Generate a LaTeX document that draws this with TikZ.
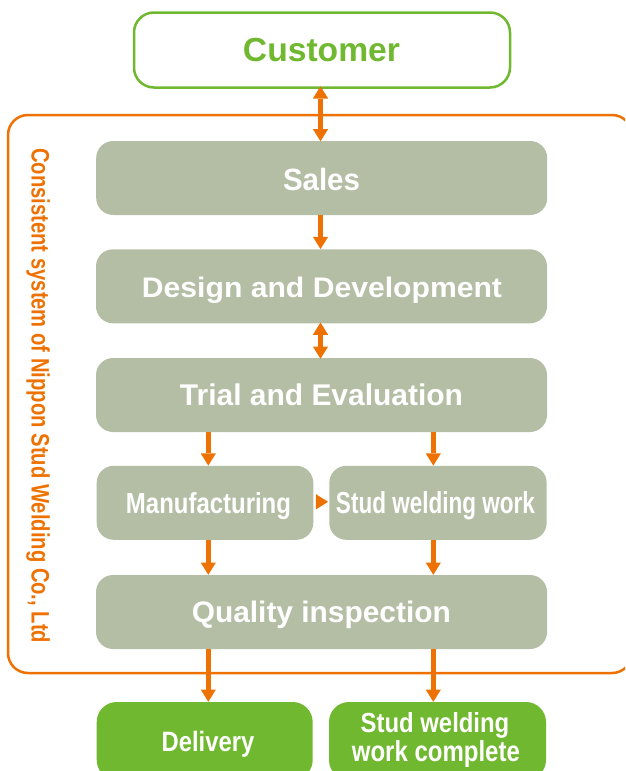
\documentclass[tikz,border=0pt]{standalone}
\usepackage{graphicx}
\usepackage{fontspec}
\setmainfont{Liberation Sans}
\usetikzlibrary{arrows.meta}
\definecolor{nsorange}{HTML}{EE7203}
\definecolor{nsgreen}{HTML}{70B82F}
\definecolor{nsgrey}{HTML}{B3BEA5}
\newcommand{\fitxt}[3]{\resizebox{#1pt}{#2pt}{\bfseries #3}}
\tikzset{
  stepbox/.style={fill=nsgrey, draw=none, rounded corners=17pt, minimum height=74pt, inner sep=0pt},
  endbox/.style={fill=nsgreen, draw=none, rounded corners=20pt, minimum height=78pt, inner sep=0pt},
  custbox/.style={fill=white, draw=nsgreen, line width=2.5pt, rounded corners=20pt, inner sep=0pt},
  framebox/.style={draw=nsorange, line width=2.5pt, rounded corners=20pt, inner sep=0pt},
  wtxt/.style={text=white, inner sep=0pt, anchor=base},
  flow/.style={draw=nsorange, line width=4.7pt, -{Triangle[width=15.3pt,length=12.3pt,line width=0pt]}},
  flow2/.style={draw=nsorange, line width=4.7pt, {Triangle[width=15.3pt,length=12.3pt,line width=0pt]}-{Triangle[width=15.3pt,length=12.3pt,line width=0pt]}}
}
\begin{document}
\begin{tikzpicture}[x=1pt,y=-1pt]
\useasboundingbox (0,0) rectangle (625,771);
\clip (0,0) rectangle (625,771);
% frame
\node[framebox, minimum width=624pt, minimum height=558pt] (sys) at (320,394) {};
\node[text=nsorange, inner sep=0pt, rotate=-90, anchor=base west] (systxt) at (31.7,148)
  {\fitxt{495}{18.3}{Consistent system of Nippon Stud Welding Co., Ltd}};
% boxes
\node[custbox, minimum width=376pt, minimum height=75pt] (cust) at (322,50) {};
\node[stepbox, minimum width=451pt] (sales) at (321.7,178) {};
\node[stepbox, minimum width=451pt] (design) at (321.5,286.3) {};
\node[stepbox, minimum width=451pt] (trial) at (321.5,395) {};
\node[stepbox, minimum width=216.6pt] (mfg) at (205,502.8) {};
\node[stepbox, minimum width=217.4pt] (stud) at (438,502.8) {};
\node[stepbox, minimum width=451pt] (qual) at (321.5,612) {};
\node[endbox, minimum width=216pt] (deliv) at (204.7,741) {};
\node[endbox, minimum width=217pt] (comp) at (437.5,741) {};
% texts
\node[inner sep=0pt, anchor=base, text=nsgreen] (tcust) at (321.5,61) {\fitxt{157}{23.3}{Customer}};
\node[wtxt] (tsales) at (321.5,190) {\fitxt{77}{22.3}{Sales}};
\node[wtxt] (tdesign) at (322,297.3) {\fitxt{360}{20.5}{Design and Development}};
\node[wtxt] (ttrial) at (321.5,405.7) {\fitxt{283}{21.7}{Trial and Evaluation}};
\node[wtxt] (tmfg) at (208.5,513.3) {\fitxt{165}{21}{Manufacturing}};
\node[wtxt] (tstud) at (435.5,513.5) {\fitxt{199}{22}{Stud welding work}};
\node[wtxt] (tqual) at (321.3,622.3) {\fitxt{259}{21.5}{Quality inspection}};
\node[wtxt] (tdeliv) at (208,751) {\fitxt{92.6}{20.3}{Delivery}};
\node[wtxt] (tcomp1) at (435,732.7) {\fitxt{148.6}{20}{Stud welding}};
\node[wtxt] (tcomp2) at (435.9,761) {\fitxt{168}{21}{work complete}};
% arrow columns
\coordinate (cx) at (320.5,0);
\coordinate (lx) at (208.3,0);
\coordinate (rx) at (433.3,0);
% arrows
\draw[flow2] ([yshift=2.5pt]cust.south -| cx) -- ([yshift=-0.5pt]sales.north -| cx);
\draw[flow] (sales.south -| cx) -- (design.north -| cx);
\draw[flow2] ([yshift=1pt]design.south -| cx) -- ([yshift=-1pt]trial.north -| cx);
\draw[flow] (trial.south -| lx) -- (mfg.north -| lx);
\draw[flow] (trial.south -| rx) -- (stud.north -| rx);
\draw[flow] ([xshift=2pt,yshift=1pt]mfg.east) -- ([xshift=-1pt,yshift=1pt]stud.west);
\draw[flow] (mfg.south -| lx) -- (qual.north -| lx);
\draw[flow] (stud.south -| rx) -- (qual.north -| rx);
\draw[flow] (qual.south -| lx) -- (deliv.north -| lx);
\draw[flow] (qual.south -| rx) -- (comp.north -| rx);
\end{tikzpicture}
\end{document}
